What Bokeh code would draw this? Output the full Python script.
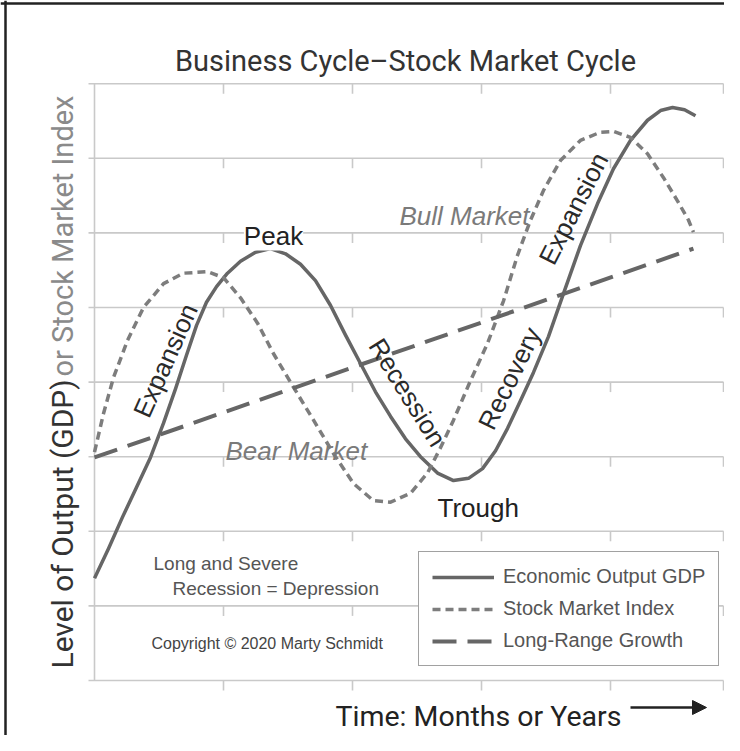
import math
from bokeh.plotting import figure
from bokeh.models import Range1d, Legend, LegendItem, Label, Span, Arrow, NormalHead
from bokeh.core.properties import value
from bokeh.embed import file_html
from bokeh.resources import INLINE

# ---------------- data ----------------
time_gdp = [0.000, 0.109, 0.217, 0.326, 0.434, 0.535, 0.628, 0.713, 0.791, 0.868, 0.946, 1.031,
            1.132, 1.248, 1.364, 1.481, 1.597, 1.713, 1.829, 1.946, 2.062, 2.178, 2.295, 2.411,
            2.527, 2.659, 2.783, 2.899, 3.008, 3.109, 3.202, 3.302, 3.403, 3.519, 3.636, 3.767,
            3.899, 4.023, 4.155, 4.287, 4.388, 4.481, 4.574, 4.659]
gdp = [1.37, 1.77, 2.19, 2.59, 2.99, 3.45, 3.91, 4.36, 4.76, 5.07, 5.28, 5.46,
       5.62, 5.74, 5.79, 5.72, 5.58, 5.36, 5.03, 4.63, 4.25, 3.87, 3.54, 3.24,
       3.00, 2.78, 2.68, 2.71, 2.84, 3.08, 3.38, 3.75, 4.13, 4.61, 5.19, 5.83,
       6.39, 6.86, 7.24, 7.51, 7.64, 7.68, 7.65, 7.57]

time_stock = [0.0, 0.070, 0.147, 0.256, 0.380, 0.535, 0.690, 0.876, 1.000, 1.132, 1.264, 1.388,
              1.543, 1.698, 1.853, 2.008, 2.163, 2.295, 2.450, 2.581, 2.682, 2.783, 2.915, 3.047,
              3.171, 3.279, 3.380, 3.481, 3.612, 3.767, 3.922, 4.023, 4.155, 4.287, 4.411, 4.519,
              4.605, 4.643]
stock = [3.06, 3.58, 4.06, 4.56, 5.00, 5.32, 5.46, 5.48, 5.40, 5.13, 4.79, 4.38,
         3.93, 3.49, 3.04, 2.64, 2.41, 2.39, 2.51, 2.78, 3.12, 3.49, 4.02, 4.52,
         5.09, 5.70, 6.17, 6.57, 6.97, 7.24, 7.35, 7.36, 7.28, 7.06, 6.74, 6.43,
         6.17, 6.01]

time_trend = [0.0, 4.643]
trend = [2.99, 5.79]

x_ticks = [0, 1, 2, 3, 4]
x_max = 4.876
y_ticks = [0, 1, 2, 3, 4, 5, 6, 7, 8]

series_labels = ["Economic Output GDP", "Stock Market Index", "Long-Range Growth"]

# ---------------- layout helpers (canvas pixel -> data) ----------------
W, H = 724, 735
def dx(px):
    return (px - 94) / 129.0
def dy(py):
    return (680 - py) / 74.6

p = figure(width=W, height=H, output_backend="svg", toolbar_location=None,
           x_range=Range1d(dx(0), dx(W)), y_range=Range1d(dy(H), dy(0)),
           x_axis_location=None, y_axis_location=None, min_border=0,
           background_fill_color="white", border_fill_color="white")
p.outline_line_color = None
p.grid.visible = False

GRID = "#c9c9c9"
# horizontal gridlines
p.segment(x0=[dx(88)] * len(y_ticks), y0=y_ticks, x1=[x_max] * len(y_ticks), y1=y_ticks,
          line_color=GRID, line_width=1.6)
# left axis line
p.segment(x0=[0], y0=[y_ticks[0]], x1=[0], y1=[y_ticks[-1]], line_color=GRID, line_width=1.6)
# small vertical stubs hanging under every gridline
stub = 10 / 74.6
sx, sy0, sy1 = [], [], []
for xt in x_ticks[1:] + [x_max]:
    for yt in y_ticks:
        sx.append(xt); sy0.append(yt); sy1.append(yt - stub)
p.segment(x0=sx, y0=sy0, x1=sx, y1=sy1, line_color=GRID, line_width=1.6)

# ---------------- series ----------------
r_gdp = p.line(time_gdp, gdp, line_color="#666666", line_width=3.5, line_join="round")
r_stock = p.line(time_stock, stock, line_color="#7d7d7d", line_width=3.5, line_dash="8 5")
r_trend = p.line(time_trend, trend, line_color="#666666", line_width=4, line_dash="24 11")

# ---------------- texts ----------------
SANS = "Liberation Sans"
HEAD = "Roboto"

p.text(x=[dx(405)], y=[dy(60)], text=["Business Cycle\u2013Stock Market Cycle"],
       text_align="center", text_baseline="alphabetic", text_font=value(HEAD),
       text_font_size="29px", text_color="#333333")

p.text(x=[dx(62)], y=[dy(668)], text=["Level of Output (GDP)"], angle=math.pi / 2,
       text_align="left", text_baseline="alphabetic", text_font=value(HEAD),
       text_font_size="30px", text_color="#333333")
p.text(x=[dx(62)], y=[dy(376)], text=["or Stock Market Index"], angle=math.pi / 2,
       text_align="left", text_baseline="alphabetic", text_font=value(HEAD),
       text_font_size="29px", text_color="#8a8a8a")

p.text(x=[dx(335)], y=[dy(716)], text=["Time: Months or Years"],
       text_align="left", text_baseline="alphabetic", text_font=value(HEAD),
       text_font_size="28.5px", text_color="#222222")
p.add_layout(Arrow(x_start=dx(630), y_start=dy(707), x_end=dx(706), y_end=dy(707),
                   line_color="#222222", line_width=2.5,
                   end=NormalHead(size=14, fill_color="#222222", line_color="#222222")))

p.add_layout(Label(x=dx(273), y=dy(235), text="Peak", text_align="center",
                   text_baseline="alphabetic", text_font=SANS, text_font_size="26px",
                   text_color="#222222", background_fill_color="white"))
p.text(x=[dx(437)], y=[dy(507)], text=["Trough"], text_align="left",
       text_baseline="alphabetic", text_font=value(SANS), text_font_size="26px",
       text_color="#222222")
p.text(x=[dx(399), dx(225)], y=[dy(215), dy(450)], text=["Bull Market", "Bear Market"],
       text_align="left", text_baseline="alphabetic", text_font=value(SANS),
       text_font_style="italic", text_font_size="26px", text_color="#7a7a7a")

rot_x = [dx(165), dx(407), dx(509), dx(573)]
rot_y = [dy(360), dy(392), dy(378), dy(208)]
rot_t = ["Expansion", "Recession", "Recovery", "Expansion"]
rot_a = [math.radians(66), math.radians(-58), math.radians(64), math.radians(63)]
p.text(x=rot_x, y=rot_y, text=rot_t, angle=rot_a, text_align="center",
       text_baseline="middle", text_font=value(SANS), text_font_size="26px",
       text_color="#2a2a2a")

p.text(x=[dx(153), dx(172)], y=[dy(563), dy(588)],
       text=["Long and Severe", "Recession = Depression"], text_align="left",
       text_baseline="alphabetic", text_font=value(SANS), text_font_size="19px",
       text_color="#555555")
p.text(x=[dx(151)], y=[dy(643)], text=["Copyright \u00a9 2020 Marty Schmidt"],
       text_align="left", text_baseline="alphabetic", text_font=value(SANS),
       text_font_size="16px", text_color="#444444")

# ---------------- legend ----------------
legend = Legend(items=[LegendItem(label=series_labels[0], renderers=[r_gdp]),
                       LegendItem(label=series_labels[1], renderers=[r_stock]),
                       LegendItem(label=series_labels[2], renderers=[r_trend])],
                location=(418, H - 666), margin=0, padding=13, spacing=9,
                glyph_width=62, glyph_height=20, label_height=20, label_standoff=9,
                label_text_font=SANS, label_text_font_size="20px", label_text_color="#555555",
                border_line_color="#444444", border_line_width=1.5,
                background_fill_color="white", background_fill_alpha=1.0)
p.add_layout(legend)

# ---------------- frame lines (top and left) ----------------
p.add_layout(Span(location=dx(5), dimension="height", line_color="#222222", line_width=2.5))
p.add_layout(Span(location=dy(3), dimension="width", line_color="#222222", line_width=2.5))

open("out.html", "w").write(file_html(p, INLINE))
